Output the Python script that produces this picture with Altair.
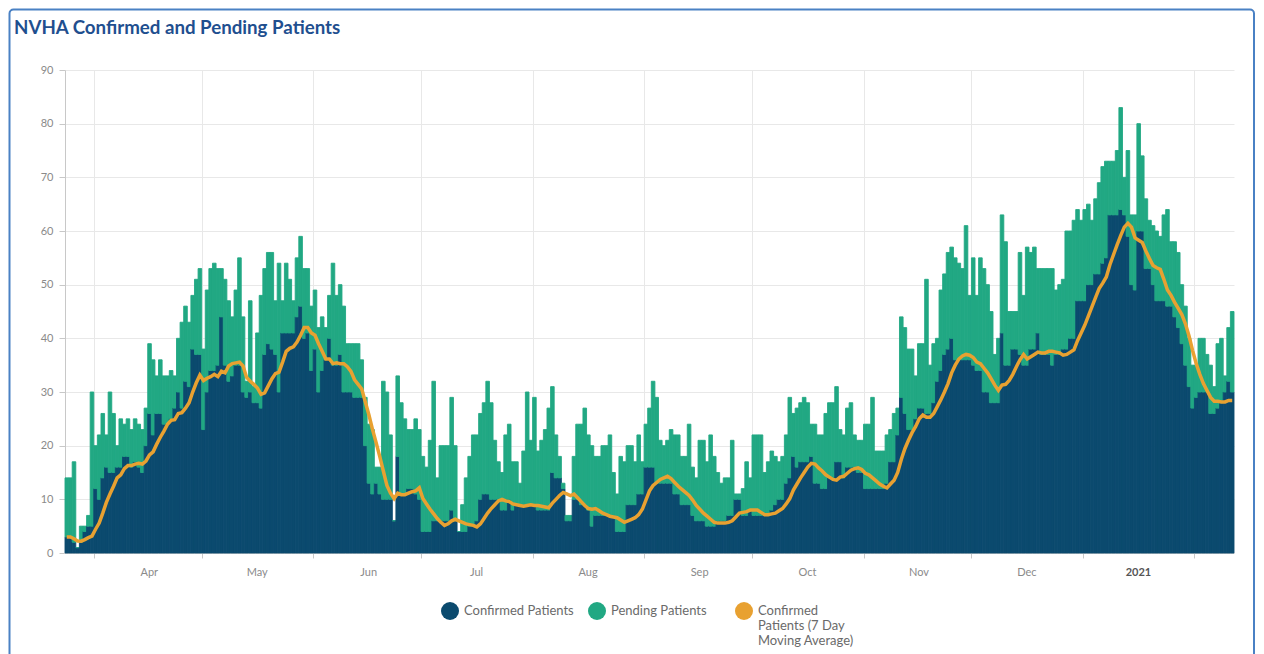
import altair as alt
import pandas as pd

start_date = "2020-03-24"
end_date = "2021-02-12"

# Daily values (one list per month)
confirmed_mar = [3, 3, 2, 1, 2, 4, 5, 5]
pending_mar = [11, 11, 15, 0, 3, 1, 2, 25]

confirmed_apr = [12, 10, 14, 16, 15, 15, 16, 16, 18, 18, 16, 17, 16, 15, 20, 26, 22, 26, 26, 24,
                 24, 25, 27, 30, 27, 32, 31, 38, 37, 37]
pending_apr = [8, 12, 12, 6, 15, 11, 4, 9, 6, 7, 7, 8, 8, 8, 7, 13, 14, 7, 10, 9,
               9, 9, 6, 10, 16, 14, 12, 10, 14, 16]

confirmed_may = [23, 30, 34, 34, 35, 44, 35, 32, 33, 35, 35, 30, 29, 30, 28, 28, 27, 37, 39, 38,
                 37, 30, 41, 41, 41, 41, 44, 46, 40, 41, 34]
pending_may = [15, 19, 19, 20, 18, 9, 16, 15, 11, 14, 20, 14, 3, 17, 3, 13, 21, 16, 17, 18,
               10, 24, 6, 13, 10, 6, 11, 13, 13, 12, 12]

confirmed_jun = [38, 30, 34, 36, 40, 35, 35, 37, 30, 30, 30, 29, 29, 29, 20, 13, 11, 13, 11, 10,
                 10, 10, 6, 18, 11, 11, 12, 12, 11, 10]
pending_jun = [11, 12, 10, 6, 8, 19, 13, 13, 16, 9, 9, 10, 10, 7, 9, 11, 12, 3, 5, 22,
               20, 12, 0, 15, 17, 14, 11, 11, 14, 13]

confirmed_jul = [4, 4, 4, 6, 6, 6, 6, 6, 8, 6, 4, 4, 4, 5, 5, 6, 10, 11, 11, 10,
                 10, 10, 8, 8, 10, 8, 9, 9, 9, 9, 9]
pending_jul = [14, 12, 17, 26, 8, 14, 14, 14, 21, 14, 0, 5, 10, 13, 17, 16, 16, 17, 21, 18,
               11, 7, 7, 14, 14, 9, 8, 4, 10, 21, 12]

confirmed_aug = [9, 8, 8, 8, 8, 15, 14, 14, 12, 6, 6, 10, 10, 9, 9, 8, 5, 7, 7, 7,
                 7, 7, 7, 4, 4, 4, 9, 9, 9, 11, 11]
pending_aug = [20, 11, 13, 15, 19, 16, 8, 4, 1, 1, 1, 8, 14, 15, 18, 14, 15, 11, 11, 13,
               13, 15, 8, 7, 14, 13, 11, 11, 8, 11, 6]

confirmed_sep = [16, 16, 16, 13, 13, 13, 13, 13, 11, 11, 9, 9, 9, 7, 6, 6, 6, 5, 5, 5,
                 6, 6, 6, 7, 7, 10, 10, 7, 7, 8]
pending_sep = [8, 11, 16, 16, 8, 7, 8, 10, 11, 11, 9, 9, 15, 9, 8, 15, 15, 12, 17, 13,
               9, 7, 8, 7, 14, 1, 1, 5, 10, 6]

confirmed_oct = [7, 7, 7, 7, 7, 8, 9, 10, 10, 13, 14, 18, 16, 17, 17, 17, 18, 13, 13, 12,
                 12, 14, 14, 17, 17, 14, 16, 16, 16, 15, 15]
pending_oct = [15, 15, 15, 8, 10, 11, 9, 7, 8, 9, 15, 8, 11, 11, 12, 11, 6, 11, 9, 10,
               14, 14, 14, 14, 6, 8, 11, 12, 6, 6, 6]

confirmed_nov = [12, 12, 12, 12, 12, 12, 13, 17, 17, 22, 29, 26, 23, 23, 25, 27, 27, 26, 26, 28,
                 32, 34, 37, 38, 40, 36, 36, 36, 36, 36]
pending_nov = [12, 12, 17, 7, 7, 7, 9, 6, 9, 5, 15, 16, 15, 15, 8, 12, 12, 25, 9, 11,
               8, 15, 15, 18, 17, 19, 18, 17, 25, 12]

confirmed_dec = [35, 34, 34, 30, 30, 28, 28, 28, 41, 35, 35, 38, 38, 37, 35, 35, 38, 38, 41, 37,
                 37, 37, 35, 37, 37, 38, 38, 40, 40, 47, 47]
pending_dec = [20, 14, 21, 23, 20, 17, 9, 12, 22, 23, 10, 7, 7, 19, 13, 22, 18, 19, 12, 16,
               16, 16, 18, 12, 13, 13, 22, 20, 22, 17, 15]

confirmed_jan = [47, 50, 50, 52, 52, 54, 55, 63, 63, 63, 64, 63, 59, 50, 49, 60, 60, 53, 53, 50,
                 47, 47, 47, 46, 46, 44, 42, 39, 35, 31, 27]
pending_jan = [17, 15, 12, 14, 17, 18, 18, 10, 10, 12, 19, 7, 16, 13, 14, 20, 14, 13, 9, 11,
               13, 12, 16, 18, 12, 14, 14, 11, 11, 9, 8]

confirmed_feb = [29, 30, 30, 30, 26, 26, 27, 28, 30, 32, 30]
pending_feb = [6, 10, 10, 7, 9, 5, 12, 12, 3, 10, 15]

confirmed = (confirmed_mar + confirmed_apr + confirmed_may + confirmed_jun + confirmed_jul
             + confirmed_aug + confirmed_sep + confirmed_oct + confirmed_nov + confirmed_dec
             + confirmed_jan + confirmed_feb)
pending = (pending_mar + pending_apr + pending_may + pending_jun + pending_jul
           + pending_aug + pending_sep + pending_oct + pending_nov + pending_dec
           + pending_jan + pending_feb)

series_names = ["Confirmed Patients", "Pending Patients",
                "Confirmed Patients (7 Day Moving Average)"]
y_ticks = [0, 10, 20, 30, 40, 50, 60, 70, 80, 90]
month_ticks = ["2020-04-01", "2020-05-01", "2020-06-01", "2020-07-01", "2020-08-01",
               "2020-09-01", "2020-10-01", "2020-11-01", "2020-12-01", "2021-01-01",
               "2021-02-01"]

blue = "#0b4a6e"
green = "#21a883"
orange = "#e8a131"
title_color = "#1f4f8f"
border_color = "#4a81c4"
font = "Lato"


def utc_ms(s):
    return int(pd.Timestamp(s, tz="UTC").value // 10**6)


dates = pd.date_range(start_date, periods=len(confirmed), freq="D")
day_start = dates.strftime("%Y-%m-%d")
day_end = (dates + pd.Timedelta(days=1)).strftime("%Y-%m-%d")
day_mid = (dates + pd.Timedelta(hours=12)).strftime("%Y-%m-%dT%H:%M:%SZ")

rows = []
for s, e, c, p in zip(day_start, day_end, confirmed, pending):
    rows.append({"start": s, "end": e, "series": series_names[0], "low": 0, "high": c})
    rows.append({"start": s, "end": e, "series": series_names[1], "low": c, "high": c + p})
bars_df = pd.DataFrame(rows)
line_df = pd.DataFrame({"mid": day_mid, "confirmed": confirmed})
dummy = pd.DataFrame({"k": [0]})

x_scale = alt.Scale(type="utc", domain=[utc_ms(start_date), utc_ms(end_date)], nice=False)
y_scale = alt.Scale(domain=[0, 90], nice=False)
color_scale = alt.Scale(domain=series_names, range=[blue, green, orange])

x_axis = alt.Axis(
    values=[utc_ms(m) for m in month_ticks],
    title=None, grid=True, gridColor="#e8e8e8", domainColor="#d0d0d0",
    tickColor="#c8c8c8", tickSize=5, labelOffset=55, labelPadding=8, labelFlush=False,
    labelFont=font, labelFontSize=11,
    labelExpr="utcmonth(datum.value) == 1 ? '' : (utcmonth(datum.value) == 0 ? utcFormat(datum.value, '%Y') : utcFormat(datum.value, '%b'))",
    labelFontWeight={"condition": {"test": "utcmonth(datum.value) == 0", "value": "bold"}, "value": "normal"},
    labelColor={"condition": {"test": "utcmonth(datum.value) == 0", "value": "#555555"}, "value": "#8a8a8a"},
)
y_axis = alt.Axis(
    values=y_ticks, title=None, grid=True, gridColor="#e8e8e8", domainColor="#c8c8c8",
    tickColor="#c8c8c8", tickSize=6, labelPadding=6, labelFont=font, labelFontSize=11,
    labelColor="#8a8a8a",
)

legend = alt.Legend(
    title=None, orient="none", legendX=376, legendY=532, direction="horizontal",
    columns=3, gridAlign="all", columnPadding=14, symbolType="circle", symbolSize=324,
    symbolStrokeWidth=0, symbolOpacity=1, labelFont=font, labelFontSize=13,
    labelColor="#6a6a6a", labelOffset=5, labelLimit=300, padding=0,
    labelExpr="datum.label == 'Confirmed Patients (7 Day Moving Average)' ? ['Confirmed', 'Patients (7 Day', 'Moving Average)'] : [datum.label, '', '']",
)

frame = alt.Chart(dummy).mark_rect(
    fillOpacity=0, stroke=border_color, strokeWidth=2, cornerRadius=4
).encode(
    x=alt.value(-55.5), x2=alt.value(1189), y=alt.value(-60.5), y2=alt.value(700)
)

bars = alt.Chart(bars_df).mark_bar(strokeWidth=0.9).encode(
    x=alt.X("start:T", scale=x_scale, axis=x_axis),
    x2="end:T",
    y=alt.Y("high:Q", scale=y_scale, axis=y_axis),
    y2="low:Q",
    color=alt.Color("series:N", scale=color_scale, legend=legend),
    stroke=alt.Stroke("series:N", scale=color_scale, legend=None),
)

line = alt.Chart(line_df).transform_window(
    ma="mean(confirmed)", frame=[-6, 0], sort=[alt.SortField("mid")]
).mark_line(color=orange, strokeWidth=3.5).encode(
    x=alt.X("mid:T", scale=x_scale, axis=x_axis),
    y=alt.Y("ma:Q", scale=y_scale, axis=y_axis),
)

title = alt.Chart(dummy).mark_text(
    text="NVHA Confirmed and Pending Patients", align="left", baseline="alphabetic",
    font=font, fontSize=18.7, fontWeight="bold", color=title_color,
).encode(x=alt.value(-51), y=alt.value(-36))

chart = alt.layer(frame, bars, line, title).properties(
    width=1169, height=483,
    padding={"left": 57, "top": 62, "right": 22, "bottom": 101},
    autosize=alt.AutoSizeParams(type="none"),
    background="white",
).configure_view(stroke=None)

chart.save("out.html", embed_options={"renderer": "svg", "actions": False})
